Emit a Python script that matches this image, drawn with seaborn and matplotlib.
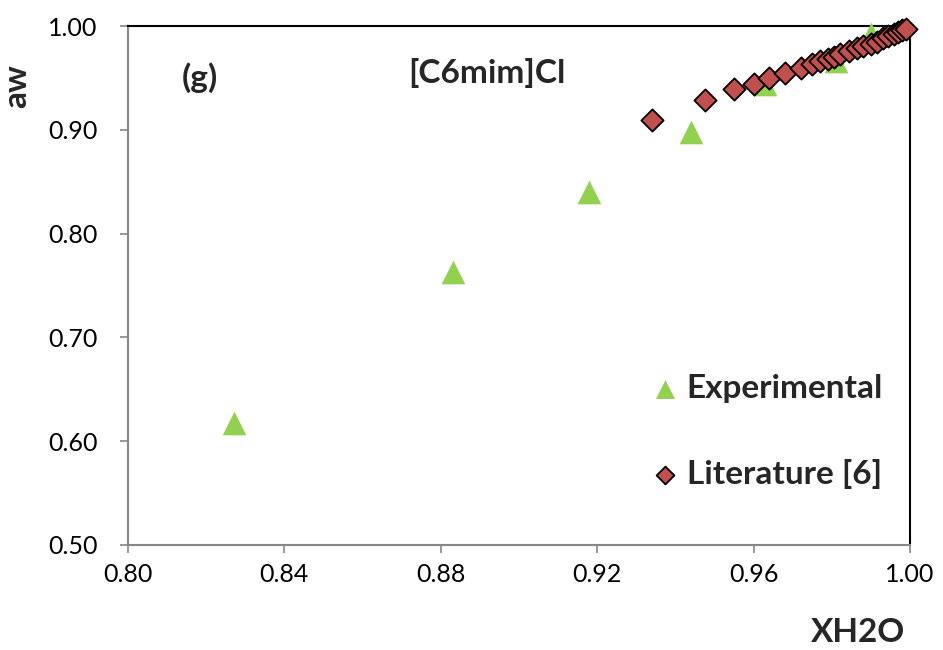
import matplotlib
matplotlib.use("Agg")
import matplotlib.pyplot as plt
import seaborn as sns
import pandas as pd

# Water activity of [C6mim]Cl solutions vs. water mole fraction
exp_x = [0.827, 0.883, 0.918, 0.944, 0.963, 0.981, 0.990]
exp_aw = [0.618, 0.763, 0.840, 0.898, 0.944, 0.966, 0.992]

lit_x = [0.934, 0.9475, 0.955, 0.960, 0.964, 0.968, 0.972, 0.975, 0.977,
         0.979, 0.9805, 0.982, 0.9845, 0.9865, 0.988, 0.990, 0.9915, 0.993,
         0.9945, 0.996, 0.997, 0.998, 0.999]
lit_aw = [0.909, 0.929, 0.939, 0.944, 0.950, 0.955, 0.960, 0.963, 0.966,
          0.968, 0.970, 0.973, 0.976, 0.979, 0.981, 0.983, 0.985, 0.988,
          0.990, 0.992, 0.994, 0.996, 0.997]

x_ticks = [0.80, 0.84, 0.88, 0.92, 0.96, 1.00]
y_ticks = [0.50, 0.60, 0.70, 0.80, 0.90, 1.00]

exp_df = pd.DataFrame({"XH2O": exp_x, "aw": exp_aw})
lit_df = pd.DataFrame({"XH2O": lit_x, "aw": lit_aw})

sns.set_theme(style="white")
plt.rcParams["font.family"] = ["Lato", "DejaVu Sans"]

fig = plt.figure(figsize=(9.43, 6.5), dpi=100)
ax = fig.add_axes([128 / 943, 1 - 545 / 650, 782 / 943, 519 / 650])

sns.scatterplot(data=exp_df, x="XH2O", y="aw", ax=ax, marker="^", s=290,
                color="#92D050", linewidth=0, label="Experimental",
                clip_on=False, zorder=3)
sns.scatterplot(data=lit_df, x="XH2O", y="aw", ax=ax, marker="D", s=128,
                color="#C0504D", edgecolor="black", linewidth=1.3,
                label="Literature [6]", clip_on=False, zorder=4)

ax.set_xlim(0.80, 1.00)
ax.set_ylim(0.50, 1.00)
ax.set_xticks(x_ticks)
ax.set_xticklabels([f"{v:.2f}" for v in x_ticks])
ax.set_yticks(y_ticks)
ax.set_yticklabels([f"{v:.2f}" for v in y_ticks])
ax.set_xlabel("")
ax.set_ylabel("")

for side in ("left", "bottom"):
    ax.spines[side].set_color("#868686")
    ax.spines[side].set_linewidth(1.5)
for side in ("top", "right"):
    ax.spines[side].set_color("black")
    ax.spines[side].set_linewidth(1.5)

ax.tick_params(axis="both", which="major", direction="out", length=6,
               width=1.2, color="#868686", labelsize=18, labelcolor="black")
ax.tick_params(axis="y", pad=16, left=True)
ax.tick_params(axis="x", pad=7, bottom=True)

LABEL_SIZE = 24

leg = ax.legend(loc="center left", bbox_to_anchor=(0.627, 0.219), frameon=False,
                labelspacing=1.66, handlelength=1.0, handletextpad=0.15,
                borderpad=0.4, markerscale=0.8,
                prop={"size": LABEL_SIZE, "weight": "bold"})

ax.text(0.0925, 0.90, "(g)", transform=ax.transAxes, fontsize=LABEL_SIZE,
        fontweight="bold", ha="center", va="center")
ax.text(0.459, 0.91, "[C6mim]Cl", transform=ax.transAxes, fontsize=LABEL_SIZE,
        fontweight="bold", ha="center", va="center")

fig.text(17 / 943, 1 - 86 / 650, "aw", rotation=90, fontsize=LABEL_SIZE,
         fontweight="bold", ha="center", va="center")
fig.text(858 / 943, 1 - 633 / 650, "XH2O", fontsize=LABEL_SIZE,
         fontweight="bold", ha="center", va="center")

fig.savefig("out.png", dpi=100)
